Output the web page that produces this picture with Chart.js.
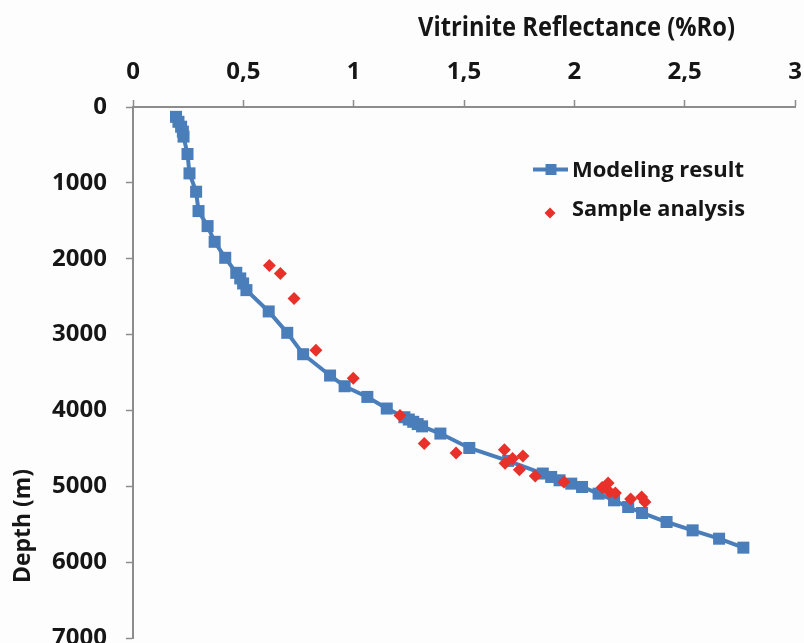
<!DOCTYPE html>
<html>
<head>
<meta charset="utf-8">
<script src="https://cdn.jsdelivr.net/npm/chart.js@4.4.1/dist/chart.umd.min.js"></script>
<style>
  html, body { margin: 0; padding: 0; background: #fdfdfd; }
</style>
</head>
<body>
<canvas id="vr" width="804" height="643"></canvas>
<script>
// modeled Ro curve (blue squares)
var modelRo = [0.195, 0.206, 0.218, 0.226, 0.229, 0.247, 0.256, 0.286, 0.297, 0.338, 0.370, 0.418,
  0.468, 0.486, 0.499, 0.514, 0.615, 0.699, 0.771, 0.893, 0.959, 1.062, 1.150, 1.23, 1.25, 1.27,
  1.29, 1.31, 1.393, 1.524, 1.70, 1.857, 1.895, 1.933, 1.986, 2.035, 2.11, 2.18, 2.244, 2.307,
  2.418, 2.536, 2.656, 2.766];
var modelDepth = [130, 195, 260, 325, 390, 620, 875, 1117, 1372, 1570, 1777, 1988,
  2186, 2260, 2326, 2414, 2695, 2977, 3259, 3540, 3681, 3822, 3975, 4090, 4120, 4150,
  4180, 4210, 4305, 4495, 4665, 4832, 4877, 4921, 4965, 5009, 5097, 5185, 5273, 5352,
  5471, 5581, 5691, 5809];

// measured samples (red diamonds)
var sampleRo = [0.618, 0.668, 0.730, 0.829, 0.998, 1.21, 1.32, 1.464, 1.683, 1.686, 1.72, 1.767,
  1.751, 1.823, 1.953, 2.126, 2.153, 2.16, 2.186, 2.255, 2.305, 2.32];
var sampleDepth = [2089, 2194, 2524, 3206, 3575, 4067, 4437, 4561, 4520, 4697, 4635, 4600,
  4782, 4866, 4943, 5017, 4956, 5075, 5088, 5168, 5141, 5207];

var xTickLabels = ['0', '0,5', '1', '1,5', '2', '2,5', '3'];
var yTickLabels = ['0', '1000', '2000', '3000', '4000', '5000', '6000', '7000'];

function pts(xs, ys) {
  return xs.map(function(v, i) { return {x: v, y: ys[i]}; });
}

var blue = '#4a7ebb';
var red = '#e8312a';
var axisGrey = '#8c8c8c';

// titles + legend, placed like the original figure
var textPlugin = {
  id: 'texts',
  afterDraw: function(chart) {
    var ctx = chart.ctx;
    ctx.save();
    ctx.fillStyle = '#161616';
    ctx.textAlign = 'left';
    ctx.textBaseline = 'alphabetic';
    ctx.font = "bold 26px 'Open Sans'";
    ctx.fillText('Vitrinite Reflectance (%Ro)', 418, 36, 317);

    // legend
    ctx.strokeStyle = blue;
    ctx.lineWidth = 4;
    ctx.beginPath();
    ctx.moveTo(533, 169.5);
    ctx.lineTo(568, 169.5);
    ctx.stroke();
    ctx.fillStyle = blue;
    ctx.fillRect(545.5, 164, 11, 11);
    ctx.fillStyle = red;
    ctx.beginPath();
    ctx.moveTo(550, 207.5);
    ctx.lineTo(555.5, 213);
    ctx.lineTo(550, 218.5);
    ctx.lineTo(544.5, 213);
    ctx.closePath();
    ctx.fill();
    ctx.fillStyle = '#161616';
    ctx.font = "bold 22px 'Open Sans'";
    ctx.fillText('Modeling result', 572, 177, 173);
    ctx.fillText('Sample analysis', 572, 216, 173);

    // y title
    ctx.translate(30, 583);
    ctx.rotate(-Math.PI / 2);
    ctx.font = "bold 24px 'Open Sans'";
    ctx.fillText('Depth (m)', 0, 0, 114);
    ctx.restore();
  }
};

Chart.defaults.font.family = "'Open Sans', sans-serif";
Chart.defaults.color = '#161616';

new Chart(document.getElementById('vr'), {
  type: 'scatter',
  data: {
    datasets: [{
      label: 'Modeling result',
      data: pts(modelRo, modelDepth),
      showLine: true,
      tension: 0,
      borderColor: blue,
      borderWidth: 4,
      pointStyle: 'rect',
      pointRadius: 8.5,
      pointBackgroundColor: blue,
      pointBorderWidth: 0,
      order: 1
    }, {
      label: 'Sample analysis',
      data: pts(sampleRo, sampleDepth),
      pointStyle: 'rectRot',
      pointRadius: 6.5,
      pointBackgroundColor: red,
      pointBorderWidth: 0,
      order: 0
    }]
  },
  options: {
    responsive: false,
    animation: false,
    layout: {autoPadding: false, padding: {left: 0, top: 0, right: 9, bottom: 5}},
    plugins: {
      legend: {display: false},
      tooltip: {enabled: false}
    },
    scales: {
      x: {
        type: 'linear',
        position: 'top',
        min: 0,
        max: 3,
        ticks: {
          stepSize: 0.5,
          padding: 13,
          font: {size: 24, weight: 'bold'},
          callback: function(v) { return xTickLabels[Math.round(v * 2)]; }
        },
        grid: {drawOnChartArea: false, drawTicks: true, tickLength: 7, color: axisGrey, tickWidth: 1.5},
        border: {display: true, color: axisGrey, width: 2},
        afterFit: function(s) { s.height = 107; s.paddingLeft = 0; s.paddingRight = 0; }
      },
      y: {
        type: 'linear',
        position: 'left',
        reverse: true,
        min: 0,
        max: 7000,
        ticks: {
          stepSize: 1000,
          padding: 19,
          // small lineHeight so the cut-off 7000 label doesn't push the plot up
          font: {size: 24, weight: 'bold', lineHeight: 0.4},
          callback: function(v) { return yTickLabels[Math.round(v / 1000)]; }
        },
        grid: {drawOnChartArea: false, drawTicks: true, tickLength: 7, color: axisGrey, tickWidth: 1.5},
        border: {display: true, color: axisGrey, width: 2},
        afterFit: function(s) { s.width = 133; s.paddingTop = 0; s.paddingBottom = 0; }
      }
    }
  },
  plugins: [textPlugin]
});
</script>
</body>
</html>
